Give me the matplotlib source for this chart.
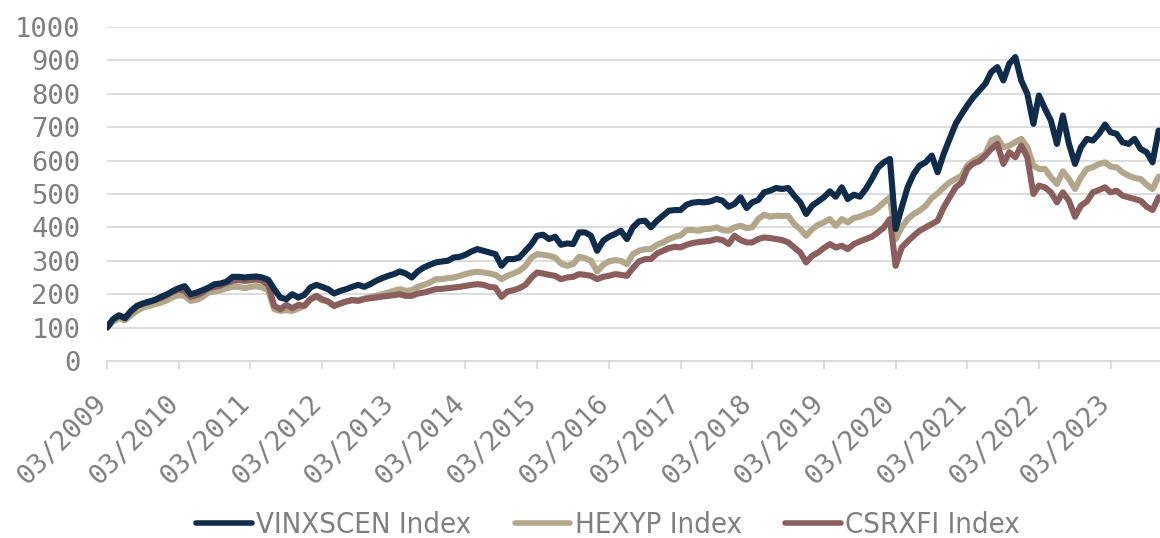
import numpy as np
import pandas as pd
import matplotlib
matplotlib.use("Agg")
import matplotlib.pyplot as plt
import matplotlib.dates as mdates
import matplotlib.transforms as mtransforms

# monthly observations, March 2009 .. November 2023
dates = pd.date_range("2009-03-01", periods=177, freq="MS")

vinxscen = [
    100, 125, 137, 128, 150, 165, 172, 178, 183, 192, 200, 210,
    218, 224, 200, 205, 212, 220, 230, 232, 238, 252, 252, 250,
    252, 253, 250, 243, 215, 190, 185, 200, 190, 198, 220, 228,
    222, 215, 202, 210, 215, 222, 228, 222, 230, 240, 248, 255,
    260, 268, 262, 250, 268, 280, 288, 295, 298, 300, 310, 312,
    318, 328, 335, 330, 325, 320, 285, 305, 305, 310, 330, 350,
    375, 378, 365, 372, 348, 352, 350, 385, 385, 375, 330, 360,
    372, 380, 390, 365, 400, 418, 420, 400, 420, 435, 450, 452,
    452, 468, 474, 476, 475, 478, 485, 480, 462, 470, 490, 458,
    475, 482, 505, 510, 518, 515, 518, 495, 475, 440, 465, 478,
    490, 508, 492, 520, 485, 498, 492, 515, 545, 578, 595, 605,
    395, 460, 520, 560, 585, 595, 615, 565, 620, 665, 710, 740,
    765, 790, 810, 830, 865, 880, 840, 890, 910, 840, 800, 710,
    795, 755, 720, 650, 735, 650, 590, 640, 665, 660, 680, 708,
    685, 680, 655, 650, 665, 635, 625, 595, 690,
]

hexyp = [
    100, 118, 128, 122, 137, 150, 160, 165, 170, 175, 182, 192,
    197, 195, 180, 183, 192, 205, 208, 212, 218, 222, 222, 218,
    222, 224, 220, 212, 155, 150, 152, 150, 157, 165, 185, 192,
    182, 178, 165, 172, 178, 183, 182, 187, 192, 195, 200, 205,
    210, 215, 210, 212, 222, 228, 235, 245, 245, 248, 250, 255,
    260, 265, 267, 265, 262, 258, 245, 255, 262, 270, 285, 310,
    320, 318, 315, 310, 292, 285, 290, 312, 308, 300, 268, 288,
    298, 302, 300, 290, 320, 330, 335, 335, 348, 355, 365, 372,
    376, 392, 392, 390, 395, 396, 400, 392, 390, 400, 405, 398,
    400, 425, 438, 432, 435, 434, 435, 410, 395, 375, 395, 408,
    415, 425, 405, 425, 415, 428, 432, 440, 445, 458, 475, 490,
    365, 400, 425, 440, 450, 465, 488, 502, 520, 535, 545, 555,
    585, 600, 610, 620, 660, 668, 640, 645, 655, 665, 640, 585,
    575, 575, 550, 530, 568, 545, 515, 550, 575, 580, 590, 595,
    582, 580, 565, 555, 548, 545, 528, 515, 552,
]

csrxfi = [
    100, 125, 135, 130, 147, 165, 173, 176, 182, 188, 197, 208,
    214, 210, 192, 197, 205, 218, 222, 226, 234, 240, 242, 240,
    242, 244, 240, 228, 165, 155, 168, 158, 168, 165, 185, 195,
    185, 178, 165, 172, 178, 182, 180, 185, 188, 190, 193, 195,
    197, 200, 195, 195, 202, 205, 210, 215, 216, 218, 220, 222,
    225, 228, 230, 228, 222, 220, 192, 208, 212, 218, 228, 250,
    265, 262, 258, 255, 245, 250, 252, 260, 258, 255, 245, 252,
    255, 260, 258, 255, 278, 298, 305, 305, 322, 330, 338, 342,
    340, 348, 353, 356, 358, 360, 365, 362, 350, 375, 362, 355,
    355, 365, 370, 368, 365, 362, 355, 340, 325, 295, 315, 325,
    338, 350, 340, 345, 335, 350, 358, 365, 372, 385, 400, 425,
    285, 340, 358, 375, 390, 400, 410, 420, 460, 490, 520, 535,
    575, 592, 598, 615, 635, 650, 590, 625, 610, 645, 610, 500,
    525, 520, 505, 475, 505, 480, 432, 465, 478, 505, 512, 520,
    505, 510, 495, 490, 485, 480, 462, 452, 490,
]

names = ["VINXSCEN Index", "HEXYP Index", "CSRXFI Index"]
colors = ["#0f2c4a", "#b3a78b", "#8b5e5e"]

grid_col = "#d9d9d9"
text_col = "#7f7f7f"
mono = ["DejaVu Sans Mono"]

fig = plt.figure(figsize=(11.6, 5.38), dpi=100)
ax = fig.add_axes([107 / 1160, 1 - 361 / 538, 1 - 107 / 1160, (361 - 27) / 538])

lines = []
for vals, name, col, z in zip([vinxscen, hexyp, csrxfi], names, colors, [4, 2, 3]):
    ln, = ax.plot(dates, vals, color=col, lw=4.4, label=name, zorder=z,
                  solid_joinstyle="round", solid_capstyle="round")
    lines.append(ln)

ax.set_ylim(0, 1000)
ax.set_yticks(np.arange(0, 1001, 100))
ax.set_xlim(dates[0], pd.Timestamp("2023-11-08"))
ax.xaxis.set_major_locator(mdates.MonthLocator(bymonth=3, bymonthday=1))
ax.xaxis.set_major_formatter(mdates.DateFormatter("%m/%Y"))

ax.grid(axis="y", color=grid_col, lw=1.3)
ax.set_axisbelow(True)
for s in ["top", "right", "left"]:
    ax.spines[s].set_visible(False)
ax.spines["bottom"].set_color(grid_col)
ax.spines["bottom"].set_linewidth(1.3)

ax.tick_params(axis="y", length=0, pad=19, labelsize=19.5, labelcolor=text_col)
ax.tick_params(axis="x", length=5.5, width=1.3, color=grid_col, pad=16,
               labelsize=19.5, labelcolor=text_col)
for lab in ax.get_yticklabels():
    lab.set_family(mono)
shift = mtransforms.ScaledTranslation(5 / 100, 0, fig.dpi_scale_trans)
for lab in ax.get_xticklabels():
    lab.set_family(mono)
    lab.set_rotation(45)
    lab.set_ha("right")
    lab.set_va("top")
    lab.set_rotation_mode("default")
    lab.set_transform(lab.get_transform() + shift)

leg = fig.legend(handles=lines, loc="center", bbox_to_anchor=(608 / 1160, 1 - 525 / 538),
                 ncol=3, frameon=False, handlelength=1.9, handletextpad=0.15,
                 columnspacing=1.5,
                 prop={"family": ["DejaVu Sans"], "stretch": "condensed", "size": 21})
for t in leg.get_texts():
    t.set_color(text_col)
for h in leg.get_lines():
    h.set_linewidth(4)
    h.set_solid_capstyle("round")

fig.savefig("out.png", dpi=100)
